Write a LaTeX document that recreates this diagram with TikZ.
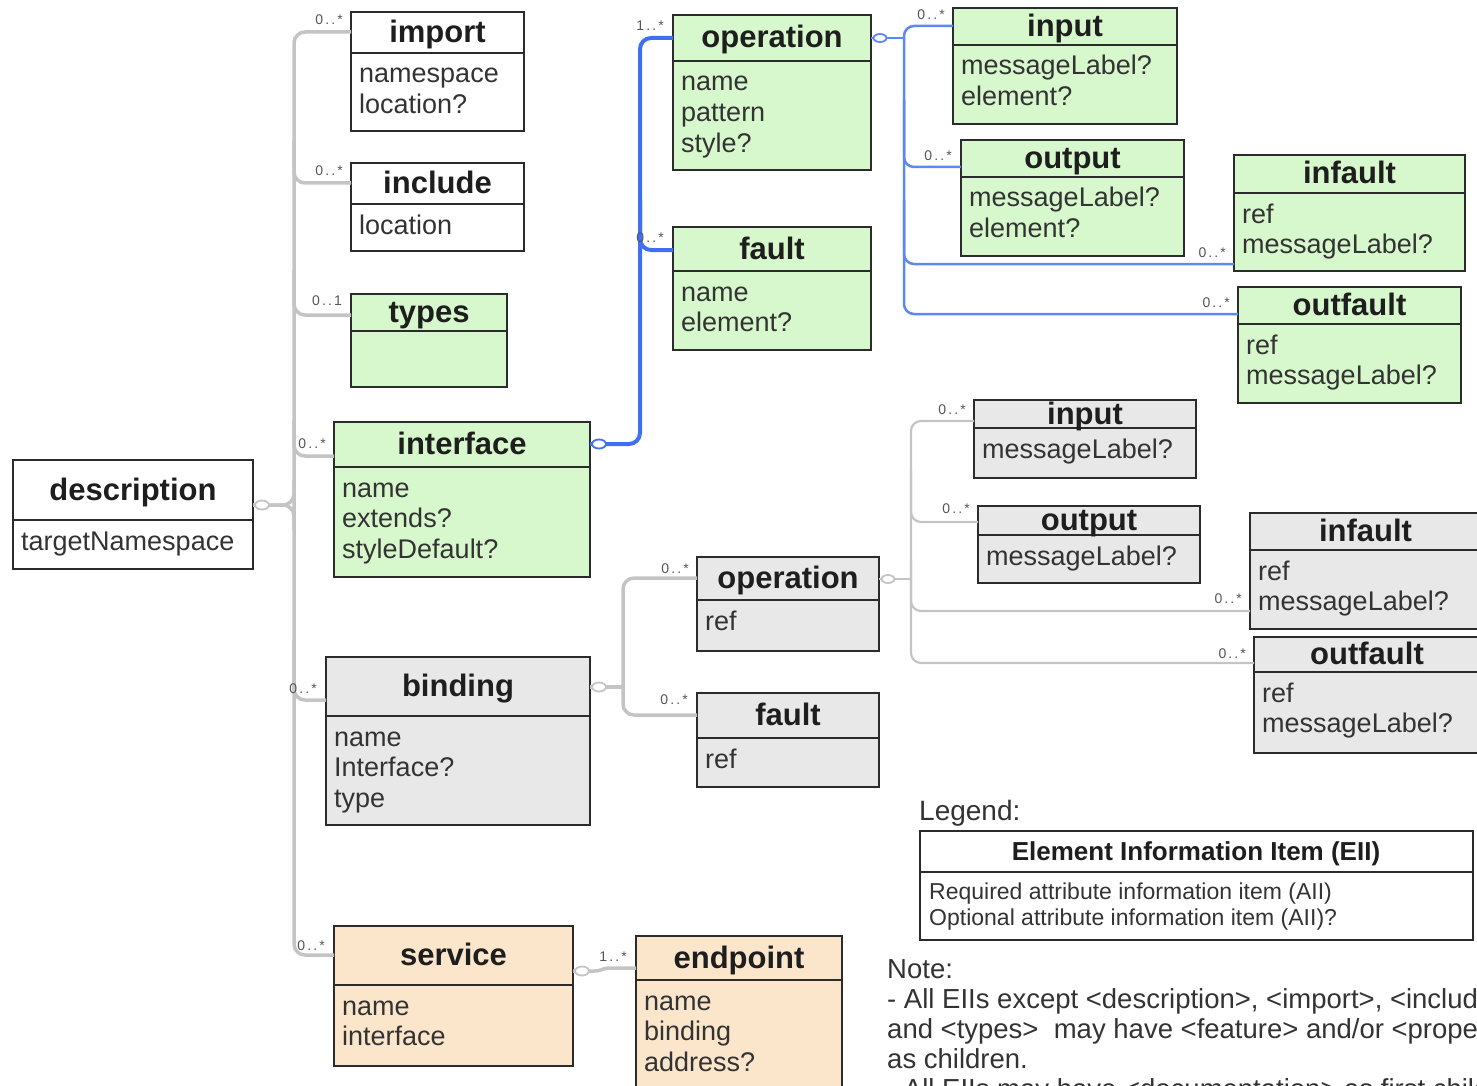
\documentclass[tikz,border=0pt]{standalone}
\usepackage{fontspec}
\setmainfont{Liberation Sans}
\usetikzlibrary{calc}
\definecolor{greenfill}{HTML}{D7F8CC}
\definecolor{grayfill}{HTML}{E8E8E8}
\definecolor{peachfill}{HTML}{FBE6CC}
\definecolor{blueline}{HTML}{3F6FF3}
\definecolor{bluethin}{HTML}{5C88F5}
\definecolor{grayline}{HTML}{C4C4C4}
\definecolor{borderc}{HTML}{2B2B2B}
\definecolor{titlec}{HTML}{1E1E1E}
\definecolor{attrc}{HTML}{333333}
\definecolor{multc}{HTML}{555555}
\tikzset{
 clsbox/.style={draw=borderc, line width=2pt, inner sep=0pt, outer sep=0pt},
 clstitle/.style={font=\fontsize{31}{36}\selectfont\bfseries, text=titlec, inner sep=0pt, anchor=base},
 clsattr/.style={font=\fontsize{27}{31}\selectfont, text=attrc, inner sep=0pt, anchor=base west},
 mult/.style={font=\fontsize{14}{16}\selectfont\addfontfeatures{LetterSpace=15}, text=multc, inner sep=0pt, anchor=base east},
 gconn/.style={draw=grayline, line width=3.5pt, rounded corners=11pt},
 gthin/.style={draw=grayline, line width=2.2pt, rounded corners=10pt},
 bthick/.style={draw=blueline, line width=4pt, rounded corners=11pt},
 bthin/.style={draw=bluethin, line width=2.5pt, rounded corners=10pt},
 agg/.style={fill=white, line width=1.8pt},
 plaintext/.style={inner sep=0pt, anchor=base west, text=attrc},
}
\newcommand{\cls}[9]{%
  \node[clsbox, fill=#7, minimum width={(#4)-(#2)}, minimum height={(#5)-(#3)}, anchor=north west] (#1) at (#2,#3) {};
  \draw[borderc, line width=2pt] (#2,#6) -- (#4,#6);
  \node[clstitle] (#1-t) at ({(#2+#4)/2},{(#3+#6)/2+10}) {#8};
  \foreach \ta [count=\ia] in {#9} {\node[clsattr] (#1-a\ia) at ({#2+8},{#6+30+(\ia-1)*30.7}) {\ta};}
}
\begin{document}
\begin{tikzpicture}[x=1pt,y=-1pt]
\useasboundingbox (0,0) rectangle (1477,1086);
\clip (0,0) rectangle (1477,1086);

% ---------- classes ----------
\cls{description}{13}{460}{253}{569}{520}{white}{description}{targetNamespace}
\cls{import}{351}{12}{524}{131}{53}{white}{import}{namespace,location?}
\cls{include}{351}{163}{524}{251}{204}{white}{include}{location}
\cls{types}{351}{294}{507}{387}{331}{greenfill}{types}{}
\cls{interface}{334}{422}{590}{577}{467}{greenfill}{interface}{name,extends?,styleDefault?}
\cls{binding}{326}{657}{590}{825}{716}{grayfill}{binding}{name,Interface?,type}
\cls{service}{334}{926}{573}{1066}{985}{peachfill}{service}{name,interface}
\cls{endpoint}{636}{936}{842}{1110}{980}{peachfill}{endpoint}{name,binding,address?}
\cls{opi}{673}{15}{871}{170}{61}{greenfill}{operation}{name,pattern,style?}
\cls{faulti}{673}{227}{871}{350}{271}{greenfill}{fault}{name,element?}
\cls{ini}{953}{8}{1177}{124}{45}{greenfill}{input}{messageLabel?,element?}
\cls{outi}{961}{140}{1184}{256}{177}{greenfill}{output}{messageLabel?,element?}
\cls{infi}{1234}{155}{1465}{271}{193}{greenfill}{infault}{ref,messageLabel?}
\cls{outfi}{1238}{287}{1461}{403}{324}{greenfill}{outfault}{ref,messageLabel?}
\cls{bop}{697}{557}{879}{651}{600}{grayfill}{operation}{ref}
\cls{bfault}{697}{693}{879}{787}{738}{grayfill}{fault}{ref}
\cls{gin}{974}{400}{1196}{478}{428}{grayfill}{input}{messageLabel?}
\cls{gout}{978}{506}{1200}{583}{535}{grayfill}{output}{messageLabel?}
\cls{ginf}{1250}{513}{1481}{629}{550}{grayfill}{infault}{ref,messageLabel?}
\cls{goutf}{1254}{637}{1480}{753}{672}{grayfill}{outfault}{ref,messageLabel?}

% ---------- description connectors ----------
\draw[gconn] ($(import.north west)+(0,20)$) -| (294,955) -- ($(service.north west)+(0,29)$);
\draw[gconn] (294,140) |- ($(include.north west)+(0,20)$);
\draw[gconn] (294,270) |- ($(types.north west)+(0,21)$);
\draw[gconn] (294,420) |- ($(interface.north west)+(0,34)$);
\draw[gconn] (294,640) |- ($(binding.north west)+(0,43)$);
\draw[gconn] ($(description.north east)+(0,45)$) -| (294,480);
\draw[gconn] ($(description.north east)+(0,45)$) -| (294,530);
\draw[agg, draw=grayline] ($(description.north east)+(9,45)$) ellipse (7pt and 4.5pt);

% ---------- interface connectors ----------
\draw[bthick] ($(interface.north east)+(0,22)$) -| (640,38) -- ($(opi.north west)+(0,23)$);
\draw[bthick] (640,200) |- ($(faulti.north west)+(0,23)$);
\draw[agg, draw=blueline] ($(interface.north east)+(9,22)$) ellipse (7pt and 4.5pt);

% ---------- interface operation connectors ----------
\draw[bthin] ($(opi.north east)+(0,23)$) -- (904,38);
\draw[bthin] ($(ini.north west)+(0,18)$) -| (904,314) -- ($(outfi.north west)+(0,27)$);
\draw[bthin] (904,100) |- ($(outi.north west)+(0,27)$);
\draw[bthin] (904,200) |- ($(infi.north west)+(0,109)$);
\draw[agg, draw=bluethin] ($(opi.north east)+(9,23)$) ellipse (6.5pt and 4pt);

% ---------- binding connectors ----------
\draw[gconn] ($(binding.north east)+(0,30)$) -- (623,687);
\draw[gconn] ($(bop.north west)+(0,21)$) -| (623,715) -- ($(bfault.north west)+(0,22)$);
\draw[agg, draw=grayline] ($(binding.north east)+(9,30)$) ellipse (7pt and 4.5pt);

% ---------- binding operation connectors ----------
\draw[gthin] ($(bop.north east)+(0,22)$) -- (911,579);
\draw[gthin] ($(gin.north west)+(0,21)$) -| (911,663) -- ($(goutf.north west)+(0,26)$);
\draw[gthin] (911,470) |- ($(gout.north west)+(0,16)$);
\draw[gthin] (911,560) |- ($(ginf.north west)+(0,98)$);
\draw[agg, draw=grayline] ($(bop.north east)+(9,22)$) ellipse (6.5pt and 4pt);

% ---------- service connector ----------
\draw[gconn, rounded corners=3pt] ($(service.north east)+(0,45)$) -- (598,971) -- (606,968) -- ($(endpoint.north west)+(0,32)$);
\draw[agg, draw=grayline] ($(service.north east)+(9,45)$) ellipse (7pt and 4.5pt);

% ---------- multiplicities ----------
\node[mult] (m-import) at (343,25) {0..*};
\node[mult] (m-include) at (343,176) {0..*};
\node[mult] (m-types) at (342,305) {0..1};
\node[mult] (m-interface) at (326,448) {0..*};
\node[mult] (m-binding) at (317,693) {0..*};
\node[mult] (m-service) at (325,950) {0..*};
\node[mult] (m-opi) at (664,31) {1..*};
\node[mult] (m-faulti) at (664,242) {0..*};
\node[mult] (m-ini) at (945,20) {0..*};
\node[mult] (m-outi) at (952,161) {0..*};
\node[mult] (m-infi) at (1226,257) {0..*};
\node[mult] (m-outfi) at (1230,307) {0..*};
\node[mult] (m-gin) at (966,414) {0..*};
\node[mult] (m-gout) at (970,513) {0..*};
\node[mult] (m-ginf) at (1242,603) {0..*};
\node[mult] (m-goutf) at (1246,658) {0..*};
\node[mult] (m-bop) at (689,573) {0..*};
\node[mult] (m-bfault) at (688,704) {0..*};
\node[mult] (m-endpoint) at (627,961) {1..*};

% ---------- legend ----------
\node[plaintext, font=\fontsize{28}{32}\selectfont] (legendlbl) at (919,820) {Legend:};
\node[clsbox, fill=white, minimum width=553, minimum height=109, anchor=north west] (legend) at (920,831) {};
\draw[borderc, line width=2pt] (920,872) -- (1473,872);
\node[inner sep=0pt, anchor=base, font=\fontsize{26}{30}\selectfont\bfseries, text=titlec] (legend-t) at (1196,860) {Element Information Item (EII)};
\node[plaintext, font=\fontsize{23}{26}\selectfont] (legend-a1) at (929,899) {Required attribute information item (AII)};
\node[plaintext, font=\fontsize{23}{26}\selectfont] (legend-a2) at (929,925) {Optional attribute information item (AII)?};

% ---------- note ----------
\node[plaintext, font=\fontsize{27.5}{30}\selectfont] (note) at (887,978) {Note:};
\node[plaintext, font=\fontsize{27.5}{30}\selectfont] (note1) at (887,1008) {- All EIIs except <description>, <import>, <include>};
\node[plaintext, font=\fontsize{27.5}{30}\selectfont] (note2) at (887,1038) {and <types>\ \ may have <feature> and/or <property>};
\node[plaintext, font=\fontsize{27.5}{30}\selectfont] (note3) at (887,1068) {as children.};
\node[plaintext, font=\fontsize{27.5}{30}\selectfont] (note4) at (887,1098) {- All EIIs may have <documentation> as first child.};
\end{tikzpicture}
\end{document}
